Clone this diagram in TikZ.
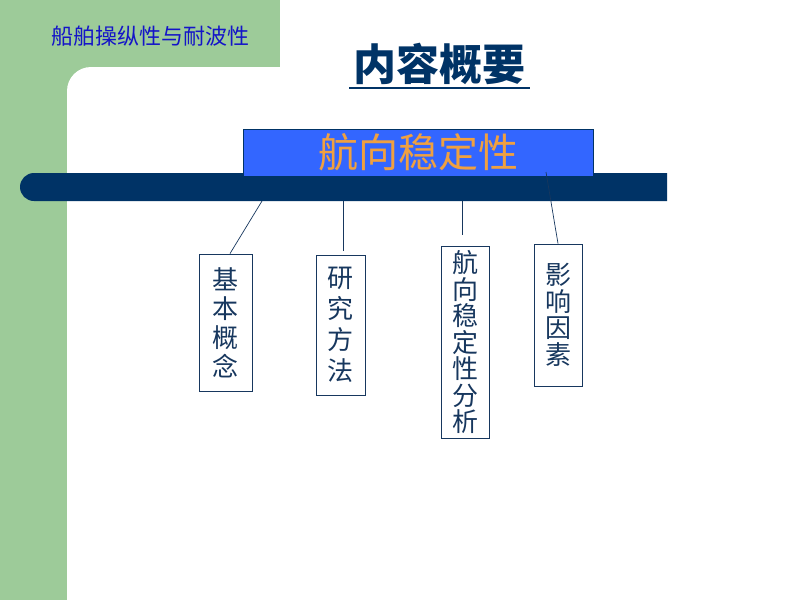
\documentclass[tikz,border=0pt]{standalone}
\usepackage{fontspec}
\newfontfamily\cjk{Noto Sans CJK SC}
\usetikzlibrary{shapes.misc}
\definecolor{sidegreen}{HTML}{9DCB99}
\definecolor{barnavy}{HTML}{003366}
\definecolor{topicblue}{HTML}{3366FF}
\definecolor{topicorange}{HTML}{F0A040}
\definecolor{boxnavy}{HTML}{17375E}
\definecolor{headblue}{HTML}{1414C8}

\begin{document}
\begin{tikzpicture}[x=1pt,y=-1pt,
  item/.style={draw=boxnavy,line width=0.8pt,text=boxnavy,inner sep=0pt,align=center},
  link/.style={draw=boxnavy,line width=0.7pt}]
\useasboundingbox (0,0) rectangle (800,600);
%background
\fill[white] (0,0) rectangle (800,600);
\fill[sidegreen] (0,0) rectangle (280,67);
\fill[sidegreen] (0,0) rectangle (67,600);
\fill[sidegreen] (0,0) rectangle (120,120);
\fill[white,rounded corners=24] (67,67) rectangle (250,250);
%header and title
\node[text=headblue,font=\cjk\fontsize{22}{24}\selectfont] (header) at (150,36) {船舶操纵性与耐波性};
\node[text=barnavy,inner sep=0pt,font=\cjk\bfseries\fontsize{43}{48}\selectfont] (title) at (439.5,64) {内容概要};
\draw[barnavy,line width=2pt] ([shift={(-4,3)}]title.south west) -- ([shift={(4,3)}]title.south east);
%bar and topic box
\node[rounded rectangle,rounded rectangle right arc=none,fill=barnavy,inner sep=0pt,
  minimum width=647,minimum height=28] (bar) at (343.5,187) {};
\node[fill=topicblue,draw=barnavy,line width=0.6pt,inner sep=0pt,minimum width=350,minimum height=47,
  text=topicorange,font=\cjk\fontsize{40}{44}\selectfont] (topic) at (418,152.5) {航向稳定性};
%sub boxes
\node[item,minimum width=53,minimum height=137,font=\cjk\fontsize{26}{29}\selectfont] (b1) at (225.5,322.5) {基\\本\\概\\念};
\node[item,minimum width=49,minimum height=140,font=\cjk\fontsize{26}{31}\selectfont] (b2) at (340.5,325) {研\\究\\方\\法};
\node[item,minimum width=48,minimum height=192,font=\cjk\fontsize{26}{26.5}\selectfont] (b3) at (465,342) {航\\向\\稳\\定\\性\\分\\析};
\node[item,minimum width=48,minimum height=142,font=\cjk\fontsize{26}{26.5}\selectfont] (b4) at (558,315) {影\\响\\因\\素};
%connectors
\coordinate (t1) at (262,201);
\coordinate (t4) at (546,172);
\draw[link] (t1) -- ([xshift=4.5]b1.north);
\draw[link] ([xshift=2.5]b2.north |- bar.south) -- ([shift={(2.5,-4)}]b2.north);
\draw[link] ([xshift=-3]b3.north |- bar.south) -- ([shift={(-3,-11)}]b3.north);
\draw[link] (t4) -- (b4.north);
\end{tikzpicture}
\end{document}
